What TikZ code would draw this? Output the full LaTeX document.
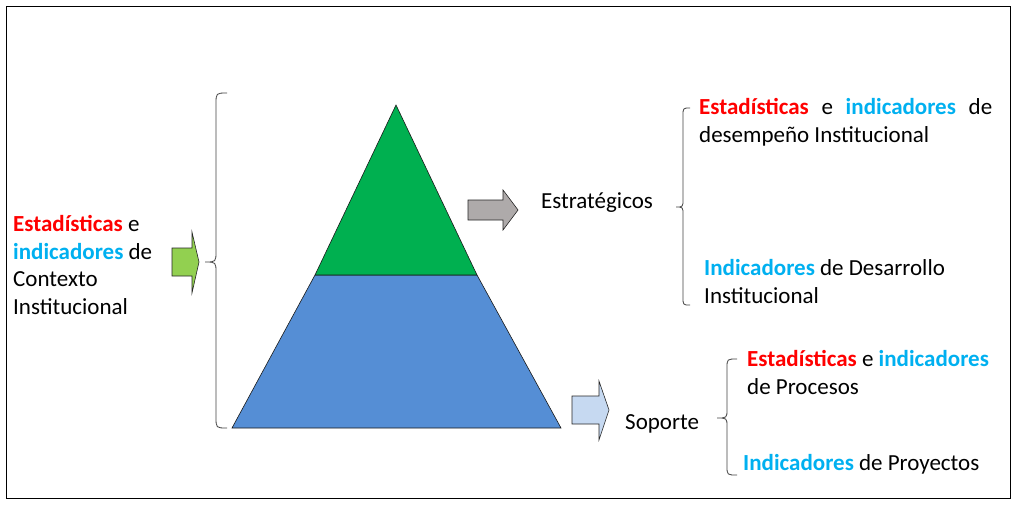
\documentclass[tikz,border=0pt]{standalone}
\usepackage{fontspec}
\setmainfont{Carlito}
\definecolor{estred}{HTML}{FF0000}
\definecolor{indcyan}{HTML}{00B0F0}
\definecolor{pyrgreen}{HTML}{00B050}
\definecolor{pyrblue}{HTML}{558ED5}
\definecolor{arrgreen}{HTML}{92D050}
\definecolor{arrgray}{HTML}{AEAAAA}
\definecolor{arrblue}{HTML}{C6D9F1}
\newcommand{\myEst}{\textbf{\textcolor{estred}{Estadísticas}}}
\newcommand{\myInd}{\textbf{\textcolor{indcyan}{indicadores}}}
\newcommand{\myIndC}{\textbf{\textcolor{indcyan}{Indicadores}}}
\begin{document}
\begin{tikzpicture}[x=1pt,y=-1pt,
  txt/.style={inner sep=0pt, anchor=base west, font=\fontsize{23}{27.7}\selectfont},
  bracel/.style={draw=black!75, line width=0.8pt},
  blockarrow/.style={draw=black!85, line width=0.6pt, line join=miter},
  pyr/.style={draw=black!90, line width=0.6pt}]
\useasboundingbox (0,0) rectangle (1016,504);
\draw[line width=0.8pt] (6,6) rectangle (1010,498);

% pyramid
\draw[pyr, fill=pyrblue] (315,275) -- (477,275) -- (561,428) -- (232,428) -- cycle;
\draw[pyr, fill=pyrgreen] (396,105) -- (477,275) -- (315,275) -- cycle;

% block arrows
\draw[blockarrow, fill=arrgreen] (172,248) -- (192,248) -- (192,232) -- (199,262) -- (192,293) -- (192,276) -- (172,276) -- cycle;
\draw[blockarrow, fill=arrgray] (468,200) -- (503,200) -- (503,190) -- (518,210) -- (503,230) -- (503,220) -- (468,220) -- cycle;
\draw[blockarrow, fill=arrblue] (572,396) -- (599,396) -- (599,381) -- (609,410) -- (599,440) -- (599,424) -- (572,424) -- cycle;

% braces
\draw[bracel] (227,93) .. controls (216,93) .. (216,104) -- (216,251) .. controls (216,262) .. (205,262) .. controls (216,262) .. (216,273) -- (216,417) .. controls (216,428) .. (227,428);
\draw[bracel] (690,108) .. controls (683,108) .. (683,116) -- (683,199) .. controls (683,207) .. (676,207) .. controls (683,207) .. (683,215) -- (683,297) .. controls (683,305) .. (690,305);
\draw[bracel] (737,359) .. controls (727,359) .. (727,368) -- (727,409) .. controls (727,418) .. (717,418) .. controls (727,418) .. (727,427) -- (727,466) .. controls (727,475) .. (737,475);

% left text
\node[txt] (l1) at (13,231) {\myEst{} e};
\node[txt] (l2) at (13,259) {\myInd{} de};
\node[txt] (l3) at (13,286) {Contexto};
\node[txt] (l4) at (13,314) {Institucional};

% strategic
\node[txt] (strat) at (541,208) {Estratégicos};
\node[txt] (r1) at (699,114) {\makebox[293pt][s]{\myEst{} e \myInd{} de}};
\node[txt] (r2) at (699,142) {desempeño Institucional};
\node[txt] (r3) at (704,275) {\myIndC{} de Desarrollo};
\node[txt] (r4) at (704,303) {Institucional};

% support
\node[txt] (sop) at (625,429) {Soporte};
\node[txt] (s1) at (747,366) {\myEst{} e \myInd};
\node[txt] (s2) at (747,394) {de Procesos};
\node[txt] (s3) at (743,470) {\myIndC{} de Proyectos};
\end{tikzpicture}
\end{document}
